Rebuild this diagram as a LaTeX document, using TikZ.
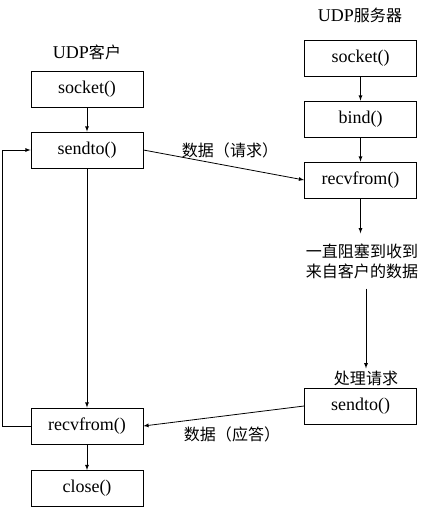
\documentclass[tikz,border=0pt]{standalone}
\usepackage{fontspec}
\setmainfont{Liberation Serif}
\newfontfamily\cjk[Scale=0.89]{Noto Sans CJK SC}
\usetikzlibrary{arrows,positioning}
\newcommand{\boxwidth}{112pt}
\newcommand{\boxheight}{36pt}
\tikzstyle{call}=[draw, rectangle, minimum width=\boxwidth, minimum height=\boxheight, inner sep=0, line width=0.8pt, font=\fontsize{18}{20}\selectfont]
\tikzstyle{note}=[inner sep=0, align=center, font=\fontsize{18}{20}\selectfont]
\tikzstyle{arrow}=[->, >=latex, line width=0.8pt]

\begin{document}
\begin{tikzpicture}[x=1pt, y=-1pt]
  \useasboundingbox (0,0) rectangle (428,508);

  \node[note] (client) at (87, 52) {UDP{\cjk 客户}};
  \node[note] (server) at (360, 15) {UDP{\cjk 服务器}};

  \node[call] (Csocket) at (87, 89.5) {socket()};
  \node[call] (Csendto) at (87, 150) {sendto()};
  \node[call] (Crecv) at (87, 426) {recvfrom()};
  \node[call] (Cclose) at (87, 488.5) {close()};

  \node[call] (Ssocket) at (360.5, 58) {socket()};
  \node[call] (Sbind) at (360.5, 119) {bind()};
  \node[call] (Srecv) at (360.5, 180) {recvfrom()};
  \node[call] (Ssendto) at (360.5, 406) {sendto()};

  \node[note, inner sep=10pt] (block) at (362, 261) {\cjk 一直阻塞到收到\\\cjk 来自客户的数据};
  \node[note, inner sep=2pt] (proc) at (366, 378) {\cjk 处理请求};

  \node[note] (req) at (230, 150) {\cjk 数据（请求）};
  \node[note] (rep) at (232, 434) {\cjk 数据（应答）};

  \draw[arrow] (Csocket) to (Csendto);
  \draw[arrow] (Csendto) to (Crecv);
  \draw[arrow] (Crecv) to (Cclose);
  \draw[arrow] (Crecv.west) -- ++(-28,0) |- (Csendto.west);

  \draw[arrow] (Ssocket) to (Sbind);
  \draw[arrow] (Sbind) to (Srecv);
  \draw[arrow] (Srecv.south) to (Srecv.south |- block.north);
  \draw[arrow] (block.south -| proc.north) to (proc.north);

  \draw[arrow] (Csendto.east) to (Srecv.west);
  \draw[arrow] (Ssendto.west) to (Crecv.east);
\end{tikzpicture}
\end{document}
